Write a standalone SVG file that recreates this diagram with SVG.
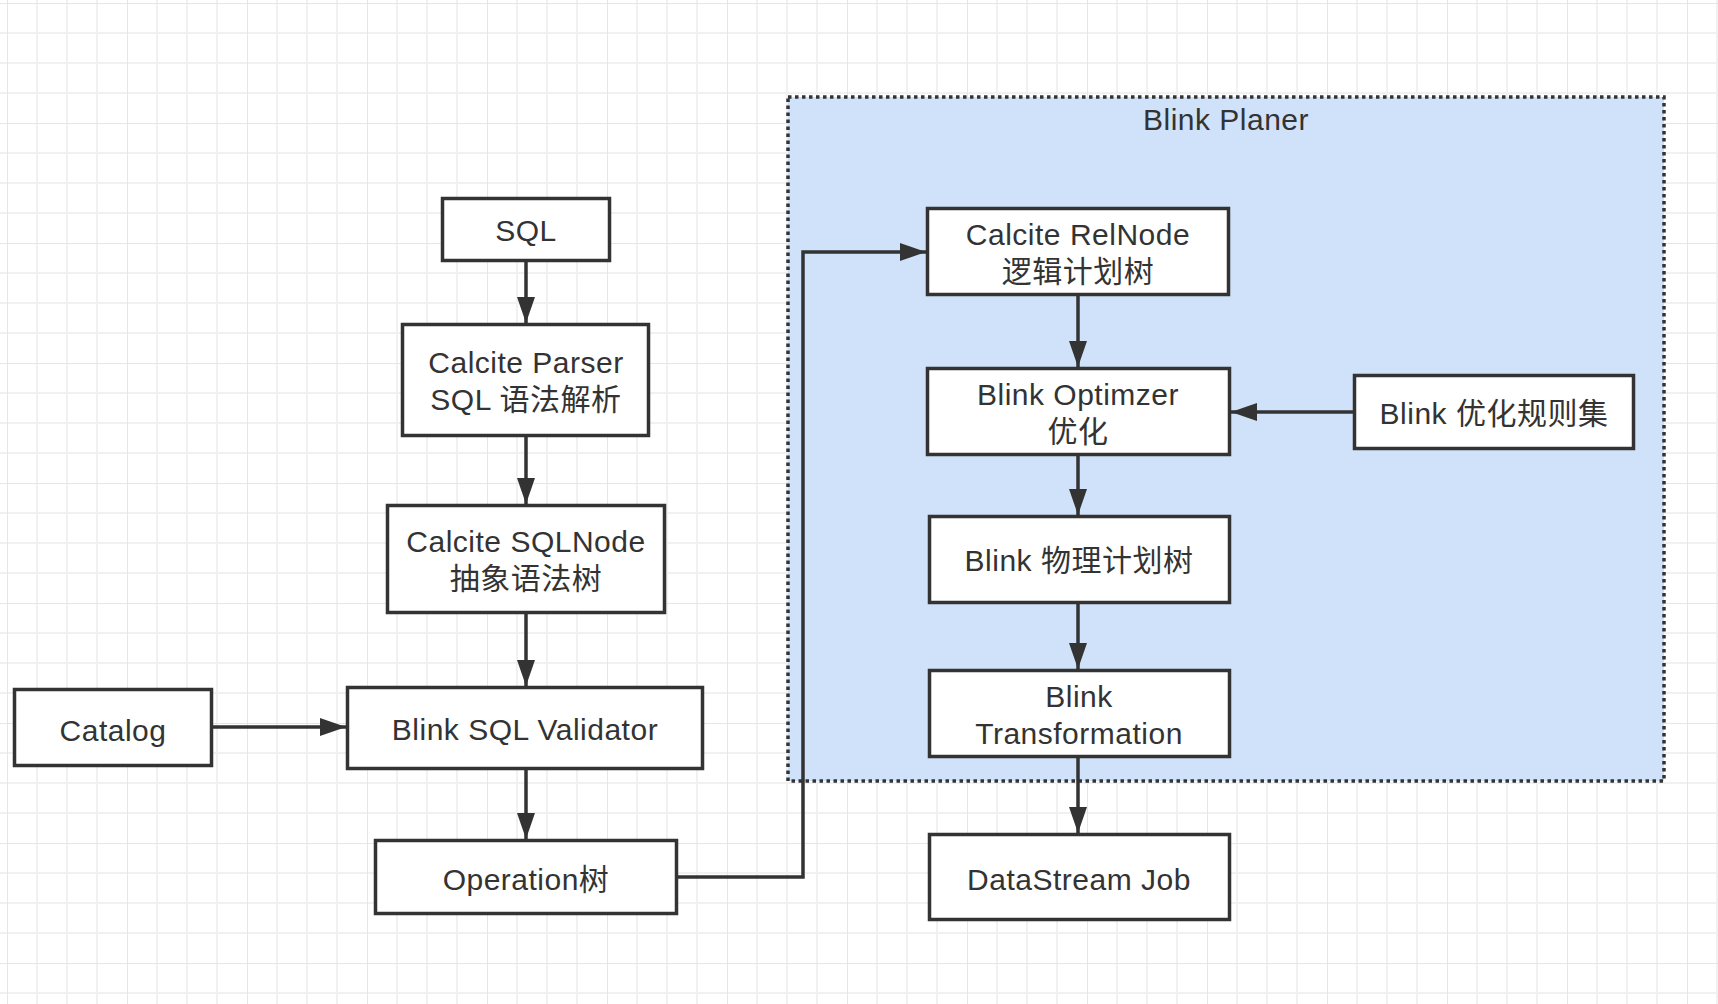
<svg xmlns="http://www.w3.org/2000/svg" width="1718" height="1004" viewBox="0 0 1718 1004">
<style>
.box{fill:#ffffff;stroke:#333333;stroke-width:3.5}
.t{font-family:"Liberation Sans","Noto Sans CJK SC",sans-serif;font-size:30px;letter-spacing:0.5px;fill:#333333;text-anchor:middle}
.c{fill:none;stroke:#333333;stroke-width:3.5}
</style>
<defs>
<pattern id="grid" patternUnits="userSpaceOnUse" x="7" y="3" width="120" height="120">
<path d="M30,0V120M60,0V120M90,0V120M0,30H120M0,60H120M0,90H120" stroke="#f1f1f1" stroke-width="2" fill="none"/>
<path d="M0,0V120M0,0H120" stroke="#e6e6e6" stroke-width="2" fill="none"/>
</pattern>
<marker id="arr" markerUnits="userSpaceOnUse" markerWidth="27" markerHeight="18" refX="26" refY="9" orient="auto">
<path d="M0,0 L26,9 L0,18 z" fill="#333333"/>
</marker>
</defs>
<rect width="1718" height="1004" fill="#ffffff"/>
<rect width="1718" height="1004" fill="url(#grid)"/>
<g id="blink-planer">
<rect x="788" y="97" width="876" height="684" fill="#cfe2fa" stroke="#333333" stroke-width="3.5" stroke-dasharray="3.5 3.5"/>
<text class="t" x="1226" y="130">Blink Planer</text>
</g>
<g id="connectors">
<path class="c" d="M526,262 V323" marker-end="url(#arr)"/>
<path class="c" d="M526,437 V504" marker-end="url(#arr)"/>
<path class="c" d="M526,614 V686" marker-end="url(#arr)"/>
<path class="c" d="M213,727 H346" marker-end="url(#arr)"/>
<path class="c" d="M526,770 V839" marker-end="url(#arr)"/>
<path class="c" d="M678,877 H803 V252 H926" marker-end="url(#arr)"/>
<path class="c" d="M1078,296 V367" marker-end="url(#arr)"/>
<path class="c" d="M1353,412 H1231" marker-end="url(#arr)"/>
<path class="c" d="M1078,456 V515" marker-end="url(#arr)"/>
<path class="c" d="M1078,604 V669" marker-end="url(#arr)"/>
<path class="c" d="M1078,758 V833" marker-end="url(#arr)"/>
</g>
<g id="sql">
<rect class="box" x="442.5" y="198.5" width="167" height="62"/>
<text class="t" x="526" y="241">SQL</text>
</g>
<g id="calcite-parser">
<rect class="box" x="402.5" y="324.5" width="246" height="111"/>
<text class="t" x="526" y="373">Calcite Parser</text>
<text class="t" x="526" y="410">SQL 语法解析</text>
</g>
<g id="calcite-sqlnode">
<rect class="box" x="387.5" y="505.5" width="277" height="107"/>
<text class="t" x="526" y="552">Calcite SQLNode</text>
<text class="t" x="526" y="589">抽象语法树</text>
</g>
<g id="validator">
<rect class="box" x="347.5" y="687.5" width="355" height="81"/>
<text class="t" x="525" y="740">Blink SQL Validator</text>
</g>
<g id="catalog">
<rect class="box" x="14.5" y="689.5" width="197" height="76"/>
<text class="t" x="113" y="741">Catalog</text>
</g>
<g id="operation">
<rect class="box" x="375.5" y="840.5" width="301" height="73"/>
<text class="t" x="526" y="890">Operation树</text>
</g>
<g id="relnode">
<rect class="box" x="927.5" y="208.5" width="301" height="86"/>
<text class="t" x="1078" y="245">Calcite RelNode</text>
<text class="t" x="1078" y="282">逻辑计划树</text>
</g>
<g id="optimizer">
<rect class="box" x="927.5" y="368.5" width="302" height="86"/>
<text class="t" x="1078" y="405">Blink Optimzer</text>
<text class="t" x="1078" y="442">优化</text>
</g>
<g id="rules">
<rect class="box" x="1354.5" y="375.5" width="279" height="73"/>
<text class="t" x="1494" y="424">Blink 优化规则集</text>
</g>
<g id="physical">
<rect class="box" x="929.5" y="516.5" width="300" height="86"/>
<text class="t" x="1079" y="571">Blink 物理计划树</text>
</g>
<g id="transformation">
<rect class="box" x="929.5" y="670.5" width="300" height="86"/>
<text class="t" x="1079" y="707">Blink</text>
<text class="t" x="1079" y="744">Transformation</text>
</g>
<g id="datastream">
<rect class="box" x="929.5" y="834.5" width="300" height="85"/>
<text class="t" x="1079" y="890">DataStream Job</text>
</g>
</svg>
